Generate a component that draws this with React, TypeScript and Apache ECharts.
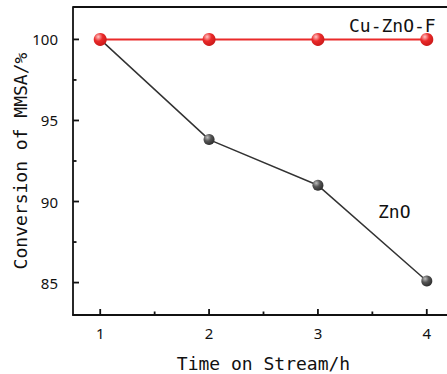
import React, { useEffect, useRef } from "react";
import * as echarts from "echarts";

// Time on stream (h)
const hours = [1, 2, 3, 4];
// MMSA conversion (%) for each catalyst
const cuZnOF = [100, 100, 100, 100];
const znO = [100, 93.82, 91.0, 85.1];
const yTicks = [85, 90, 95, 100];
const xMinorTicks = [1.5, 2.5, 3.5];
const yMinorTicks = [87.5, 92.5, 97.5];

const X_MIN = 0.75;
const X_MAX = 4.25;
const Y_MIN = 83;
const Y_MAX = 102;

const MONO = "'DejaVu Sans Mono', monospace";
const INK = "#111";
const AXIS_W = 1.8;

function ball(base: string, light: string, dark: string) {
  return new echarts.graphic.RadialGradient(0.35, 0.3, 0.75, [
    { offset: 0, color: light },
    { offset: 0.45, color: base },
    { offset: 1, color: dark },
  ]);
}

export default function App() {
  const ref = useRef<HTMLDivElement>(null);
  useEffect(() => {
    if (!ref.current) return;
    const chart = echarts.init(ref.current, null, { renderer: "svg" });
    chart.setOption({
      animation: false,
      backgroundColor: "#ffffff",
      grid: {
        left: 73,
        top: 7,
        width: 381,
        height: 308,
        containLabel: false,
        outerBoundsMode: "none",
      },
      xAxis: {
        type: "value",
        min: X_MIN,
        max: X_MAX,
        name: "Time on Stream/h",
        nameLocation: "middle",
        nameGap: 39,
        nameMoveOverlap: false,
        nameTextStyle: { fontFamily: MONO, fontSize: 18, color: INK },
        axisLine: { show: true, onZero: false, lineStyle: { color: INK, width: AXIS_W } },
        axisTick: { show: false },
        axisLabel: {
          customValues: hours,
          fontFamily: "'Noto Sans', sans-serif",
          fontSize: 15,
          color: INK,
          margin: 10,
        },
        splitLine: { show: false },
      },
      yAxis: {
        type: "value",
        min: Y_MIN,
        max: Y_MAX,
        name: "Conversion of MMSA/%",
        nameLocation: "middle",
        nameGap: 44,
        nameMoveOverlap: false,
        nameRotate: 90,
        nameTextStyle: { fontFamily: MONO, fontSize: 18, color: INK },
        axisLine: { show: true, lineStyle: { color: INK, width: AXIS_W } },
        axisTick: { show: false },
        axisLabel: {
          customValues: yTicks,
          fontFamily: "'Noto Sans', sans-serif",
          fontSize: 15,
          color: INK,
          margin: 15,
        },
        splitLine: { show: false },
      },
      series: [
        {
          name: "ZnO",
          type: "line",
          data: hours.map((h, i) => [h, znO[i]]),
          symbol: "circle",
          symbolSize: 11,
          lineStyle: { color: "#333333", width: 1.5 },
          itemStyle: { color: ball("#555555", "#bdbdbd", "#2a2a2a") },
          z: 2,
        },
        {
          name: "Cu-ZnO-F",
          type: "line",
          data: hours.map((h, i) => [h, cuZnOF[i]]),
          symbol: "circle",
          symbolSize: 13,
          lineStyle: { color: "#ea2a2a", width: 2 },
          itemStyle: { color: ball("#ea2a2a", "#ffc4c4", "#c81818") },
          z: 3,
        },
      ],
    });

    // Tick marks placed through the grid's own scales; all ticks point
    // into the plot area.
    const toPx = (v: [number, number]) => chart.convertToPixel({ gridIndex: 0 }, v) as number[];
    const tickLine = (x1: number, y1: number, x2: number, y2: number) => ({
      type: "line",
      silent: true,
      z: 10,
      shape: { x1, y1, x2, y2 },
      style: { stroke: INK, lineWidth: AXIS_W },
    });
    const ticks: any[] = [];
    hours.forEach((v) => {
      const p = toPx([v, Y_MIN]);
      ticks.push(tickLine(p[0], p[1], p[0], p[1] - 6));
    });
    xMinorTicks.forEach((v) => {
      const p = toPx([v, Y_MIN]);
      ticks.push(tickLine(p[0], p[1], p[0], p[1] - 3.5));
    });
    yTicks.forEach((v) => {
      const p = toPx([X_MIN, v]);
      ticks.push(tickLine(p[0], p[1], p[0] + 6, p[1]));
    });
    yMinorTicks.forEach((v) => {
      const p = toPx([X_MIN, v]);
      ticks.push(tickLine(p[0], p[1], p[0] + 3.5, p[1]));
    });
    const topLeft = toPx([X_MIN, Y_MAX]);
    const topRight = toPx([X_MAX, Y_MAX]);

    chart.setOption({
      graphic: [
        // top border of the frame
        {
          type: "line",
          silent: true,
          shape: { x1: topLeft[0], y1: topLeft[1], x2: topRight[0], y2: topRight[1] },
          style: { stroke: INK, lineWidth: AXIS_W },
        },
        ...ticks,
        {
          type: "text",
          x: 349,
          y: 25,
          style: { text: "Cu-ZnO-F", fontFamily: MONO, fontSize: 18, fill: INK, verticalAlign: "middle" },
        },
        {
          type: "text",
          x: 378,
          y: 211,
          style: { text: "ZnO", fontFamily: MONO, fontSize: 18, fill: INK, verticalAlign: "middle" },
        },
      ],
    });
    return () => chart.dispose();
  }, []);
  return <div ref={ref} style={{ width: 447, height: 374, position: "absolute", left: 0, top: 0 }} />;
}
